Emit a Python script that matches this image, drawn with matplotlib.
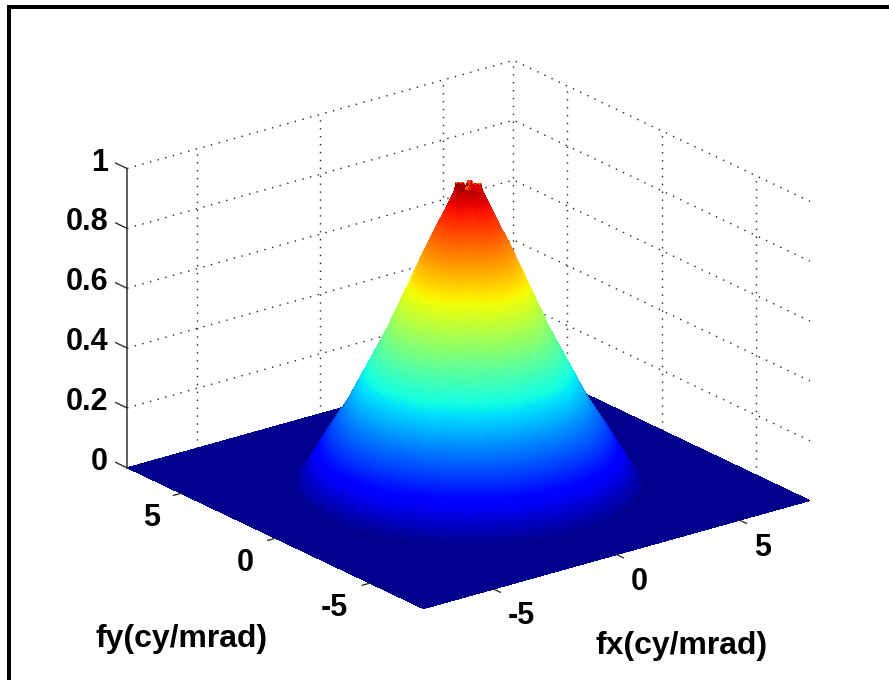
import numpy as np
import matplotlib
matplotlib.use('Agg')
import matplotlib.pyplot as plt
from matplotlib.patches import Rectangle

# Perfil radial (raio em cy/mrad, altura normalizada)
raio = [0.0, 0.4, 0.5, 1.46, 2.65, 3.95, 4.7, 5.2, 5.6, 12.0]
altura = [0.985, 0.985, 0.97, 0.77, 0.507, 0.257, 0.14, 0.055, 0.0, 0.0]

# Ruido no topo do pico: altura e cor por setor angular
pico_z = [0.985, 1.0, 0.985, 0.985, 1.005, 0.985, 0.985, 1.0, 0.985, 0.985, 1.005, 0.985]
pico_cor = [0.97, 0.82, 0.97, 0.92, 0.80, 0.97, 0.95, 0.85, 0.97, 0.92, 0.82, 0.97]
raio_pico = 0.42

ticks_xy = [-5, 0, 5]
ticks_z = [0, 0.2, 0.4, 0.6, 0.8, 1]
rotulos_z = ['0', '0.2', '0.4', '0.6', '0.8', '1']
lim = 7.85

W, H = 889, 680
plt.rcParams['font.family'] = ['Liberation Sans', 'DejaVu Sans']
plt.rcParams['font.weight'] = 'bold'
fs = 22

fig = plt.figure(figsize=(W / 100, H / 100), dpi=100)

# Moldura preta
for x0, y0, w, h in [(7, 5, 882, 4), (7, 5, 4, 675)]:
    fig.add_artist(Rectangle((x0 / W, 1 - (y0 + h) / H), w / W, h / H, transform=fig.transFigure,
                             color='black', lw=0))

S = 700
cx, cy = 459, 344
ax = fig.add_axes([(cx - S / 2) / W, 1 - (cy + S / 2) / H, S / W, S / H], projection='3d')
ax.set_proj_type('ortho')
ax.view_init(elev=21.4, azim=-127.5)
ax.set_box_aspect((1, 1, 0.66), zoom=1.054)
ax.set_xlim(-lim, lim)
ax.set_ylim(-lim, lim)
ax.set_zlim(0, 1)
ax.set_axis_off()
ax.patch.set_alpha(0)
ax.computed_zorder = False

# Grade pontilhada nas paredes do fundo
grade = dict(color='#222222', linestyle=(0, (1, 4.7)), linewidth=1.0, zorder=1, clip_on=False)
for z in ticks_z[1:]:
    ax.plot([-lim, lim, lim], [lim, lim, -lim], [z, z, z], **grade)
for t in ticks_xy:
    ax.plot([t, t], [lim, lim], [0, 1], **grade)
    ax.plot([lim, lim], [t, t], [0, 1], **grade)
ax.plot([lim, lim], [lim, lim], [0, 1], **grade)

# Superficie
g = np.linspace(-lim, lim, 321)
X, Y = np.meshgrid(g, g)
R = np.hypot(X, Y)
Z = np.interp(R, raio, altura)
C = Z * 0.96
setor = (((np.arctan2(Y, X) + np.pi) / (2 * np.pi) * len(pico_z)).astype(int)) % len(pico_z)
topo = R < raio_pico
Z[topo] = np.array(pico_z)[setor[topo]]
C[topo] = np.array(pico_cor)[setor[topo]]
# jet do MATLAB comeca em azul 0.5625
cores = plt.cm.jet(0.0137 + 0.9863 * np.clip(C, 0, 1))
sup = ax.plot_surface(X, Y, Z, facecolors=cores, rstride=1, cstride=1, linewidth=0, antialiased=False,
                      shade=False, zorder=2)
sup.set_clip_on(False)

# Eixo z e marcas
ax.plot([-lim, -lim], [lim, lim], [0, 1], color='#444444', linewidth=1.2, zorder=3, clip_on=False)
for z, s in zip(ticks_z, rotulos_z):
    ax.plot([-lim, -lim], [lim, lim + 0.6], [z, z], color='#333333', linewidth=1, zorder=3, clip_on=False)
    ax.text(-lim, lim + 1.0, z - 0.01, s, fontsize=fs, ha='right', va='center', zorder=4)

for t in ticks_xy:
    ax.plot([t, t], [-lim, -lim - 0.35], [0, 0], color='#333333', linewidth=1, zorder=3, clip_on=False)
    ax.plot([-lim, -lim - 0.3], [t, t], [0, 0], color='#333333', linewidth=1, zorder=3, clip_on=False)
    ax.text(t - 1.1, -lim - 2.2, 0, str(t), fontsize=fs, ha='left', va='center', zorder=4)
    ax.text(-lim - 1.89, t - 1.34, 0, str(t), fontsize=fs, ha='right', va='center', zorder=4)

fig.text(682 / W, 1 - 646 / H, 'fx(cy/mrad)', fontsize=23, ha='center', va='center')
fig.text(182 / W, 1 - 639 / H, 'fy(cy/mrad)', fontsize=23, ha='center', va='center')

fig.savefig('out.png', dpi=100, facecolor='white')
